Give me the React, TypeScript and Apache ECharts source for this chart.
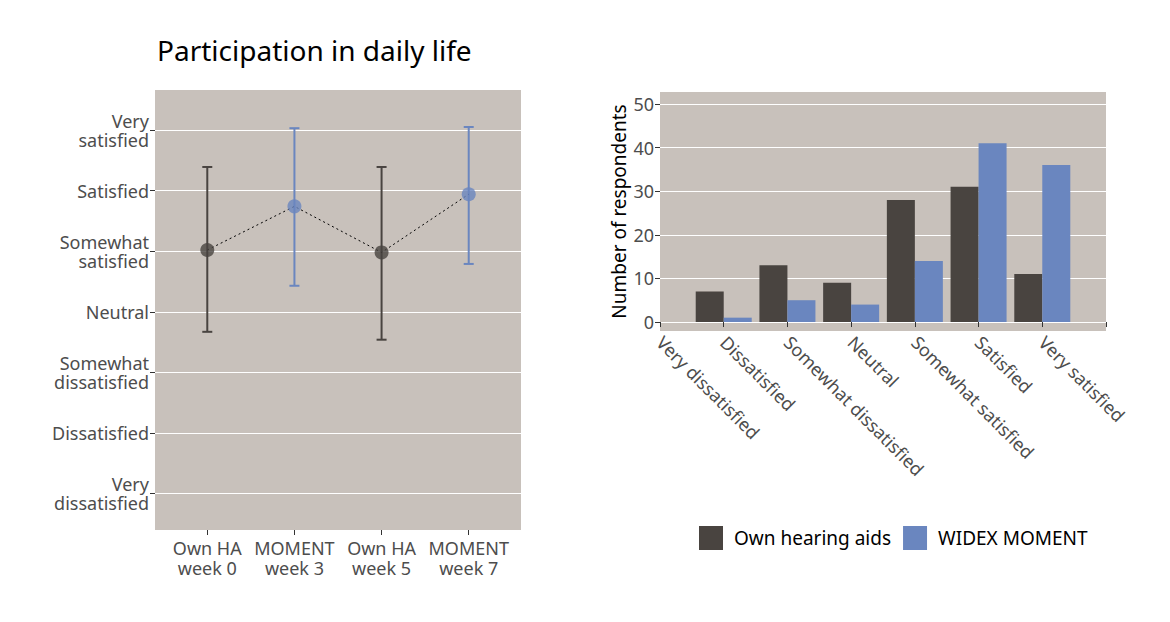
import { useEffect, useRef } from "react";
import * as echarts from "echarts";

const LEVELS = ["Very\ndissatisfied", "Dissatisfied", "Somewhat\ndissatisfied", "Neutral", "Somewhat\nsatisfied", "Satisfied", "Very\nsatisfied"];
const TIMEPOINTS = ["Own HA\nweek 0", "MOMENT\nweek 3", "Own HA\nweek 5", "MOMENT\nweek 7"];
const MEANS = [5.02, 5.74, 4.98, 5.94];
const LOWER = [3.67, 4.43, 3.54, 4.79];
const UPPER = [6.39, 7.03, 6.39, 7.05];

const RESPONSES = ["Very dissatisfied", "Dissatisfied", "Somewhat dissatisfied", "Neutral", "Somewhat satisfied", "Satisfied", "Very satisfied", ""];
const OWN_COUNTS = [0, 7, 13, 9, 28, 31, 11, null];
const WIDEX_COUNTS = [0, 1, 5, 4, 14, 41, 36, null];
const COUNT_TICKS = [0, 10, 20, 30, 40, 50];

const DARK = "#494440";
const BLUE = "#6a86bf";
const PANEL = "#c8c1bb";
const TEXT = "#4d4d4d";
const FONT = "Noto Sans";

export default function App() {
    const chartRef = useRef<HTMLDivElement | null>(null);

    useEffect(() => {
        if (!chartRef.current) return;
        const chart = echarts.init(chartRef.current, undefined, { renderer: "svg" });

        const pointColor = (i: number) => (i % 2 === 0 ? DARK : BLUE);

        chart.setOption({
            animation: false,
            textStyle: { fontFamily: FONT },
            title: {
                text: "Participation in daily life",
                left: 152,
                top: 31,
                textStyle: { fontSize: 28, fontWeight: "normal", color: "#000", fontFamily: FONT },
            },
            legend: {
                data: ["Own hearing aids", "WIDEX MOMENT"],
                left: 694,
                top: 521,
                itemWidth: 24,
                itemHeight: 24,
                itemGap: 12,
                icon: "rect",
                textStyle: { fontSize: 19, color: "#000", fontFamily: FONT, padding: [0, 0, 0, 6] },
            },
            grid: [
                { left: 155, top: 90, width: 366, height: 440 },
                { left: 660, top: 92, width: 446, height: 239 },
            ],
            xAxis: [
                {
                    gridIndex: 0,
                    type: "value",
                    min: 0.4,
                    max: 4.6,
                    axisLine: { show: false },
                    axisTick: { show: true, length: 5, lineStyle: { color: "#333" }, customValues: [1, 2, 3, 4] },
                    splitLine: { show: false },
                    axisLabel: {
                        customValues: [1, 2, 3, 4],
                        formatter: (v: number) => TIMEPOINTS[Math.round(v) - 1] ?? "",
                        fontSize: 18,
                        lineHeight: 20,
                        color: TEXT,
                        margin: 8,
                    },
                },
                {
                    gridIndex: 1,
                    type: "category",
                    data: RESPONSES,
                    boundaryGap: false,
                    axisLine: { show: false },
                    axisTick: { show: true, length: 5, lineStyle: { color: "#333" }, alignWithLabel: true },
                    splitLine: { show: false },
                    axisLabel: { rotate: -45, fontSize: 18, color: TEXT, margin: 8, interval: 0 },
                },
            ],
            yAxis: [
                {
                    gridIndex: 0,
                    type: "value",
                    min: 0.4,
                    max: 7.66,
                    axisLine: { show: false },
                    axisTick: { show: true, length: 5, lineStyle: { color: "#333" }, customValues: [1, 2, 3, 4, 5, 6, 7] },
                    splitLine: { show: true, lineStyle: { color: "#fff", width: 1.2 } },
                    axisLabel: {
                        customValues: [1, 2, 3, 4, 5, 6, 7],
                        formatter: (v: number) => LEVELS[Math.round(v) - 1] ?? "",
                        fontSize: 18,
                        lineHeight: 19,
                        color: TEXT,
                        align: "right",
                        margin: 6,
                    },
                },
                {
                    gridIndex: 1,
                    type: "value",
                    min: -2.06,
                    max: 52.75,
                    name: "Number of respondents",
                    nameLocation: "middle",
                    nameGap: 32,
                    nameTextStyle: { fontSize: 19, color: "#000" },
                    axisLine: { show: false },
                    axisTick: { show: true, length: 5, lineStyle: { color: "#333" }, customValues: COUNT_TICKS },
                    splitLine: { show: true, lineStyle: { color: "#fff", width: 1.2 } },
                    axisLabel: { customValues: COUNT_TICKS, fontSize: 18, color: TEXT, margin: 6 },
                },
            ],
            graphic: [
                { type: "rect", shape: { x: 155, y: 90, width: 366, height: 440 }, style: { fill: PANEL }, z: -10 },
                { type: "rect", shape: { x: 660, y: 92, width: 446, height: 239 }, style: { fill: PANEL }, z: -10 },
            ],
            series: [
                {
                    type: "line",
                    xAxisIndex: 0,
                    yAxisIndex: 0,
                    data: MEANS.map((m, i) => [i + 1, m]),
                    showSymbol: false,
                    lineStyle: { color: "#000", width: 1, type: [2, 3] },
                    silent: true,
                },
                {
                    type: "custom",
                    xAxisIndex: 0,
                    yAxisIndex: 0,
                    data: MEANS.map((_, i) => [i + 1, LOWER[i], UPPER[i]]),
                    renderItem: (params: any, api: any) => {
                        const lo = api.coord([api.value(0), api.value(1)]);
                        const hi = api.coord([api.value(0), api.value(2)]);
                        const c = pointColor(params.dataIndex);
                        const style = { stroke: c, lineWidth: 2 };
                        return {
                            type: "group",
                            children: [
                                { type: "line", shape: { x1: lo[0], y1: lo[1], x2: hi[0], y2: hi[1] }, style },
                                { type: "line", shape: { x1: lo[0] - 5, y1: lo[1], x2: lo[0] + 5, y2: lo[1] }, style },
                                { type: "line", shape: { x1: hi[0] - 5, y1: hi[1], x2: hi[0] + 5, y2: hi[1] }, style },
                            ],
                        };
                    },
                },
                {
                    type: "scatter",
                    xAxisIndex: 0,
                    yAxisIndex: 0,
                    symbolSize: 14,
                    data: MEANS.map((m, i) => ({ value: [i + 1, m], itemStyle: { color: pointColor(i) } })),
                    z: 5,
                },
                {
                    name: "Own hearing aids",
                    type: "bar",
                    xAxisIndex: 1,
                    yAxisIndex: 1,
                    data: OWN_COUNTS,
                    barWidth: 28,
                    barGap: "0%",
                    itemStyle: { color: DARK },
                },
                {
                    name: "WIDEX MOMENT",
                    type: "bar",
                    xAxisIndex: 1,
                    yAxisIndex: 1,
                    data: WIDEX_COUNTS,
                    barWidth: 28,
                    barGap: "0%",
                    itemStyle: { color: BLUE },
                },
            ],
        });

        return () => chart.dispose();
    }, []);

    return <div ref={chartRef} style={{ width: 1170, height: 622, margin: -8, background: "#fff" }} />;
}
